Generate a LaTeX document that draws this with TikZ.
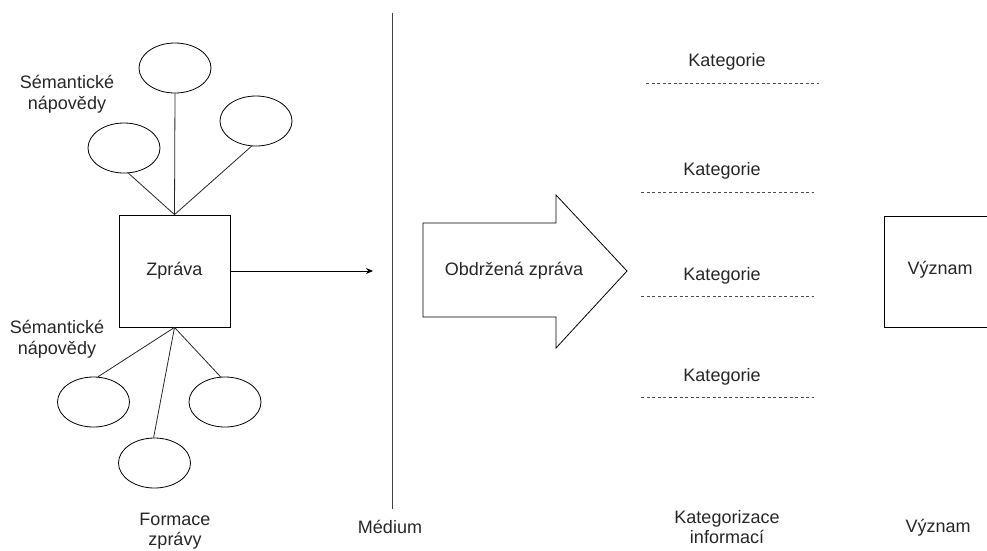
\documentclass[tikz,border=0pt]{standalone}
\usepackage{fontspec}
\setmainfont{Liberation Sans}
\usetikzlibrary{arrows.meta,shapes.geometric}
\begin{document}
\begin{tikzpicture}[x=1pt,y=-1pt,
  line width=0.8pt,
  every node/.style={font=\fontsize{18}{20.5}\selectfont, text=black!85, inner sep=0pt},
  hint/.style={draw, ellipse, minimum width=72pt, minimum height=50pt},
  box/.style={draw, rectangle, minimum width=111pt, minimum height=112pt},
  tie/.style={draw, black!85},
  catline/.style={draw=black!70, line width=0.6pt, dash pattern=on 3pt off 2.5pt},
  lbl/.style={align=center}]
\useasboundingbox (0,0) rectangle (987,550);
\begin{scope}
\clip (0,0) rectangle (987,550);

% message and its semantic hints
\node[box] (msg) at (174.5,271) {Zpráva};
\node[hint] (h1) at (124,148) {};
\node[hint] (h2) at (175,68) {};
\node[hint] (h3) at (256,121) {};
\node[hint] (h4) at (93.5,402) {};
\node[hint] (h5) at (225,402) {};
\node[hint] (h6) at (154.5,463) {};
\draw[tie] (msg.north) -- (h1.-80);
\draw[tie] (msg.north) -- (h2.south);
\draw[tie] (msg.north) -- (h3.-100);
\draw[tie] (msg.south) -- (h4.80);
\draw[tie] (msg.south) -- (h5.100);
\draw[tie] (msg.south) -- (h6.92);
\node[lbl] (sem1) at (67,94) {Sémantické\\nápovědy};
\node[lbl] (sem2) at (57,339) {Sémantické\\nápovědy};

% medium
\coordinate (mtop) at (392.5,13);
\coordinate (mbot) at (392.5,509);
\draw[black!75] (mtop) -- (mbot);
\coordinate (sendend) at (373,271);
\draw[-{Stealth[length=7pt,width=6pt]}] (msg.east) -- (sendend);

% received message as a block arrow
\draw (423,223) -- (556,223) -- (556,195) -- (627,271) -- (556,348) -- (556,317) -- (423,317) -- cycle;
\node (recv) at (514,271) {Obdržená zpráva};

% categories
\node (k1) at (727,62) {Kategorie};
\coordinate (k1a) at (646,83); \coordinate (k1b) at (819,83);
\draw[catline] (k1a) -- (k1b);
\node (k2) at (722,171) {Kategorie};
\coordinate (k2a) at (641,192); \coordinate (k2b) at (814,192);
\draw[catline] (k2a) -- (k2b);
\node (k3) at (722,276) {Kategorie};
\coordinate (k3a) at (641,296); \coordinate (k3b) at (814,296);
\draw[catline] (k3a) -- (k3b);
\node (k4) at (722,377) {Kategorie};
\coordinate (k4a) at (641,397); \coordinate (k4b) at (814,397);
\draw[catline] (k4a) -- (k4b);

% meaning
\draw (995,216) -- (884,216) -- (884,327) -- (995,327);
\node (mean) at (940,270) {Význam};

% column captions
\node[lbl] (c1) at (175,531) {Formace\\zprávy};
\node (c2) at (390,527) {Médium};
\node[lbl] (c3) at (727,527) {Kategorizace\\informací};
\node (c4) at (938,528) {Význam};
\end{scope}
\end{tikzpicture}
\end{document}
